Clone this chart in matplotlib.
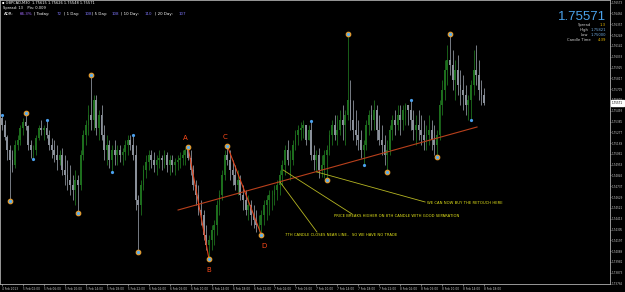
import numpy as np
import matplotlib.pyplot as plt
from matplotlib import transforms

# M30 candles, 4 Feb 22:00 -> 8 Feb 18:00
first_open = 1.7542
highs = [1.7545, 1.7540, 1.7525, 1.7515, 1.7510, 1.7520, 1.7525, 1.7535, 1.7542, 1.7547,
         1.7535, 1.7520, 1.7515, 1.7525, 1.7535, 1.7540, 1.7535, 1.7540, 1.7530, 1.7522,
         1.7520, 1.7515, 1.7510, 1.7512, 1.7505, 1.7500, 1.7495, 1.7485, 1.7490, 1.7485,
         1.7510, 1.7530, 1.7540, 1.7555, 1.7585, 1.7565, 1.7565, 1.7550, 1.7555, 1.7535,
         1.7525, 1.7520, 1.7515, 1.7520, 1.7515, 1.7515, 1.7512, 1.7520, 1.7525, 1.7525,
         1.7525, 1.7515, 1.7465, 1.7480, 1.7495, 1.7505, 1.7510, 1.7510, 1.7508, 1.7505,
         1.7510, 1.7505, 1.7510, 1.7508, 1.7505, 1.7505, 1.7502, 1.7505, 1.7508, 1.7510,
         1.7512, 1.7513, 1.7510, 1.7495, 1.7480, 1.7475, 1.7460, 1.7450, 1.7435, 1.7425,
         1.7435, 1.7440, 1.7460, 1.7470, 1.7490, 1.7510, 1.7514, 1.7510, 1.7500, 1.7495,
         1.7490, 1.7485, 1.7475, 1.7470, 1.7465, 1.7460, 1.7455, 1.7450, 1.7445, 1.7450,
         1.7460, 1.7465, 1.7470, 1.7470, 1.7475, 1.7480, 1.7490, 1.7500, 1.7515, 1.7520,
         1.7510, 1.7520, 1.7530, 1.7535, 1.7538, 1.7540, 1.7535, 1.7535, 1.7539, 1.7515,
         1.7510, 1.7512, 1.7505, 1.7510, 1.7515, 1.7530, 1.7540, 1.7545, 1.7545, 1.7550,
         1.7555, 1.7550, 1.7626, 1.7580, 1.7560, 1.7550, 1.7540, 1.7530, 1.7520, 1.7540,
         1.7550, 1.7555, 1.7560, 1.7555, 1.7545, 1.7535, 1.7525, 1.7520, 1.7535, 1.7545,
         1.7550, 1.7555, 1.7555, 1.7555, 1.7557, 1.7555, 1.7560, 1.7550, 1.7545, 1.7550,
         1.7545, 1.7540, 1.7535, 1.7545, 1.7540, 1.7535, 1.7530, 1.7560, 1.7580, 1.7600,
         1.7615, 1.7626, 1.7610, 1.7600, 1.7605, 1.7590, 1.7585, 1.7575, 1.7565, 1.7580,
         1.7610, 1.7615, 1.7600, 1.7580, 1.7572]
lows = [1.7530, 1.7520, 1.7500, 1.7459, 1.7488, 1.7492, 1.7510, 1.7515, 1.7525, 1.7530,
        1.7510, 1.7502, 1.7501, 1.7505, 1.7520, 1.7525, 1.7520, 1.7522, 1.7510, 1.7502,
        1.7498, 1.7490, 1.7495, 1.7485, 1.7475, 1.7470, 1.7465, 1.7460, 1.7455, 1.7447,
        1.7470, 1.7500, 1.7515, 1.7525, 1.7530, 1.7530, 1.7525, 1.7520, 1.7520, 1.7500,
        1.7495, 1.7492, 1.7488, 1.7495, 1.7495, 1.7498, 1.7495, 1.7500, 1.7505, 1.7510,
        1.7500, 1.7450, 1.7408, 1.7445, 1.7470, 1.7482, 1.7490, 1.7492, 1.7488, 1.7485,
        1.7492, 1.7490, 1.7492, 1.7488, 1.7485, 1.7488, 1.7485, 1.7490, 1.7492, 1.7495,
        1.7495, 1.7500, 1.7485, 1.7470, 1.7455, 1.7445, 1.7435, 1.7420, 1.7410, 1.7401,
        1.7410, 1.7415, 1.7425, 1.7445, 1.7460, 1.7480, 1.7495, 1.7480, 1.7475, 1.7470,
        1.7465, 1.7460, 1.7450, 1.7445, 1.7440, 1.7435, 1.7432, 1.7428, 1.7428, 1.7425,
        1.7435, 1.7440, 1.7445, 1.7450, 1.7455, 1.7460, 1.7465, 1.7475, 1.7485, 1.7495,
        1.7480, 1.7495, 1.7510, 1.7515, 1.7520, 1.7522, 1.7515, 1.7520, 1.7500, 1.7490,
        1.7488, 1.7482, 1.7483, 1.7482, 1.7480, 1.7505, 1.7515, 1.7520, 1.7515, 1.7525,
        1.7520, 1.7515, 1.7540, 1.7530, 1.7520, 1.7515, 1.7510, 1.7502, 1.7495, 1.7510,
        1.7525, 1.7530, 1.7530, 1.7520, 1.7515, 1.7505, 1.7495, 1.7488, 1.7505, 1.7520,
        1.7525, 1.7530, 1.7525, 1.7530, 1.7535, 1.7535, 1.7530, 1.7520, 1.7515, 1.7520,
        1.7515, 1.7510, 1.7510, 1.7515, 1.7510, 1.7505, 1.7503, 1.7520, 1.7545, 1.7560,
        1.7575, 1.7585, 1.7570, 1.7560, 1.7565, 1.7555, 1.7550, 1.7545, 1.7540, 1.7540,
        1.7565, 1.7575, 1.7560, 1.7555, 1.7555]
closes = [1.7535, 1.7523, 1.7510, 1.7500, 1.7495, 1.7515, 1.7520, 1.7532, 1.7538, 1.7534,
          1.7515, 1.7510, 1.7510, 1.7522, 1.7532, 1.7530, 1.7532, 1.7525, 1.7515, 1.7510,
          1.7505, 1.7500, 1.7505, 1.7490, 1.7485, 1.7480, 1.7475, 1.7470, 1.7480, 1.7475,
          1.7505, 1.7525, 1.7535, 1.7545, 1.7540, 1.7560, 1.7532, 1.7545, 1.7525, 1.7510,
          1.7515, 1.7500, 1.7510, 1.7505, 1.7510, 1.7505, 1.7508, 1.7515, 1.7520, 1.7515,
          1.7505, 1.7460, 1.7455, 1.7475, 1.7490, 1.7498, 1.7505, 1.7500, 1.7495, 1.7500,
          1.7502, 1.7500, 1.7505, 1.7495, 1.7500, 1.7495, 1.7498, 1.7500, 1.7502, 1.7505,
          1.7510, 1.7502, 1.7490, 1.7475, 1.7465, 1.7450, 1.7445, 1.7425, 1.7415, 1.7420,
          1.7430, 1.7435, 1.7455, 1.7465, 1.7485, 1.7505, 1.7500, 1.7490, 1.7485, 1.7475,
          1.7480, 1.7465, 1.7460, 1.7450, 1.7455, 1.7445, 1.7440, 1.7435, 1.7435, 1.7445,
          1.7455, 1.7460, 1.7465, 1.7465, 1.7470, 1.7475, 1.7485, 1.7495, 1.7510, 1.7500,
          1.7500, 1.7515, 1.7525, 1.7530, 1.7532, 1.7535, 1.7520, 1.7530, 1.7505, 1.7500,
          1.7505, 1.7490, 1.7495, 1.7505, 1.7510, 1.7525, 1.7535, 1.7525, 1.7530, 1.7540,
          1.7535, 1.7545, 1.7560, 1.7540, 1.7530, 1.7525, 1.7520, 1.7510, 1.7515, 1.7535,
          1.7545, 1.7540, 1.7550, 1.7530, 1.7520, 1.7515, 1.7505, 1.7510, 1.7530, 1.7540,
          1.7535, 1.7545, 1.7540, 1.7550, 1.7555, 1.7550, 1.7540, 1.7530, 1.7535, 1.7530,
          1.7525, 1.7520, 1.7525, 1.7530, 1.7520, 1.7515, 1.7525, 1.7555, 1.7570, 1.7590,
          1.7600, 1.7595, 1.7580, 1.7590, 1.7575, 1.7570, 1.7565, 1.7555, 1.7560, 1.7575,
          1.7590, 1.7585, 1.7570, 1.7565, 1.75571]
opens = [first_open] + closes[:-1]

time_labels = ['4 Feb 2013', '5 Feb 02:00', '5 Feb 06:00', '5 Feb 10:00', '5 Feb 14:00',
               '5 Feb 18:00', '5 Feb 22:00', '6 Feb 02:00', '6 Feb 06:00', '6 Feb 10:00',
               '6 Feb 14:00', '6 Feb 18:00', '6 Feb 22:00', '7 Feb 02:00', '7 Feb 06:00',
               '7 Feb 10:00', '7 Feb 14:00', '7 Feb 18:00', '7 Feb 22:00', '8 Feb 02:00',
               '8 Feb 06:00', '8 Feb 10:00', '8 Feb 14:00', '8 Feb 18:00']
label_bars = [0, 8, 16, 24, 32, 40, 48, 56, 64, 72, 80, 88, 96, 104, 112, 120,
              128, 136, 144, 152, 160, 168, 176, 184]
price_ticks = [1.76573, 1.76465, 1.76357, 1.76249, 1.76141, 1.76033, 1.75925, 1.75817,
               1.75709, 1.75601, 1.75493, 1.75385, 1.75277, 1.75169, 1.75061, 1.74953,
               1.74845, 1.74737, 1.74629, 1.74521, 1.74413, 1.74305, 1.74197, 1.74089,
               1.73981, 1.73873, 1.73765]

# zigzag swing points
big_idx = [3, 9, 29, 34, 52, 71, 79, 86, 99, 124, 132, 147, 166, 171]
big_price = [1.7459, 1.7547, 1.7447, 1.7585, 1.7408, 1.7513, 1.7401, 1.7514, 1.7425,
             1.7480, 1.7626, 1.7488, 1.7503, 1.7626]
small_idx = [0, 12, 17, 42, 50, 118, 138, 156, 179]
small_price = [1.7545, 1.7501, 1.7540, 1.7488, 1.7525, 1.7539, 1.7495, 1.7560, 1.7540]

# ABCD pattern
wave_names = ['A', 'B', 'C', 'D']
wave_idx = [71, 79, 86, 99]
wave_price = [1.7513, 1.7401, 1.7514, 1.7425]
wave_offsets = [(-2, 4), (0, -6), (-2, 4), (2, -6)]

trend_idx = [67.2, 181.3]
trend_price = [1.7450, 1.7533]

notes = ['WE CAN NOW BUY THE RETOUCH HERE',
         'PRICE BREAKS HIGHER ON 8TH CANDLE WITH GOOD SEPARATION',
         '7TH CANDLE CLOSES NEAR LINE..  SO WE HAVE NO TRADE']
note_lines = [((120.2, 1.7488), (161.5, 1.7458)),
              ((107.3, 1.7490), (133.6, 1.7446)),
              ((106.1, 1.7478), (120.2, 1.7428))]
note_pos = [(162.2, 1.7457), (126.7, 1.7444), (108.0, 1.7425)]

W, H = 625, 292
fig = plt.figure(figsize=(W / 100, H / 100), dpi=100, facecolor='black')
ax = fig.add_axes([0, 8 / H, 610 / W, 284 / H], facecolor='black')

x = np.arange(len(closes))
o = np.array(opens)
c = np.array(closes)
up = c >= o
up_col, dn_col = '#1d6e1d', '#8a909a'
cols = np.where(up, up_col, dn_col)

ax.vlines(x, lows, highs, colors=cols, linewidth=0.6, zorder=2)
ax.bar(x, np.abs(c - o) + 0.00003, bottom=np.minimum(o, c), width=0.7,
       color=cols, linewidth=0, zorder=2)

# trend line and callouts
ax.plot(trend_idx, trend_price, color='#b8401c', linewidth=0.8, zorder=3)
for (p0, p1), txt, (tx, ty) in zip(note_lines, notes, note_pos):
    ax.plot([p0[0], p1[0]], [p0[1], p1[1]], color='#b5b522', linewidth=0.6, zorder=3)
    ax.text(tx, ty, txt, color='#e2e21a', fontsize=2.7, va='center', ha='left', zorder=4)

# ABCD legs
ax.plot(wave_idx[:2], wave_price[:2], color='#e0421a', linewidth=0.8, zorder=3)
ax.plot(wave_idx[2:], wave_price[2:], color='#e0421a', linewidth=0.8, zorder=3)
for name, xi, pr, off in zip(wave_names, wave_idx, wave_price, wave_offsets):
    ax.annotate(name, (xi, pr), xytext=off, textcoords='offset points',
                color='#ff4a1a', fontsize=5, ha='center',
                va='bottom' if off[1] > 0 else 'top', zorder=5)

ax.plot(big_idx, big_price, 'o', markersize=3.2, markerfacecolor='#5aaef0',
        markeredgecolor='#e09a30', markeredgewidth=0.9, linestyle='none', zorder=5)
ax.plot(small_idx, small_price, 'o', markersize=2.3, markerfacecolor='#4aa0ee',
        markeredgewidth=0, linestyle='none', zorder=5)

ax.set_xlim(-0.76, 232.06)
ax.set_ylim(1.7376, 1.7660)

for s in ax.spines.values():
    s.set_color('#b0b0b0')
    s.set_linewidth(0.6)

ax.yaxis.tick_right()
ax.set_yticks(price_ticks)
ax.set_yticklabels(['%.5f' % t for t in price_ticks])
ax.tick_params(axis='y', colors='#c8c8c8', labelsize=2.0, length=1.0, width=0.4, pad=0.5)
ax.set_xticks(label_bars)
ax.set_xticklabels(time_labels, ha='left')
ax.tick_params(axis='x', colors='#c8c8c8', labelsize=2.1, length=1.5, width=0.4, pad=0.5)

# current price box on the price scale
tr = transforms.blended_transform_factory(ax.transAxes, ax.transData)
ax.text(1.003, closes[-1], '%.5f' % closes[-1], transform=tr, fontsize=2.0,
        color='black', va='center', ha='left', clip_on=False, zorder=10,
        bbox=dict(boxstyle='square,pad=0.25', facecolor='white', edgecolor='white'))


def px(xp, yp):
    return xp / W, 1 - yp / H


# header, top left
fig.text(*px(2, 3), '\u25aa GBPCAD,M30  1.75615 1.75626 1.75548 1.75571', color='white',
         fontsize=2.6, va='center', ha='left')
fig.text(*px(3, 8), 'Spread: 13    Pts: 0.009', color='white', fontsize=2.6,
         va='center', ha='left')
adr_parts = [('ADR:', 'white', 4), ('66.3%', '#a46cff', 20), ('| Today:', 'white', 34),
             ('72', '#7c74f6', 57), ('| 1 Day:', 'white', 64), ('108', '#7c74f6', 85),
             ('| 5 Day:', 'white', 92), ('108', '#7c74f6', 112), ('| 10 Day:', 'white', 121),
             ('110', '#7c74f6', 145), ('| 20 Day:', 'white', 155), ('107', '#7c74f6', 179)]
for txt, col, xp in adr_parts:
    fig.text(*px(xp, 14), txt, color=col, fontsize=2.9, va='center', ha='left')

# info panel, top right
fig.text(*px(606, 17), '1.75571', color='#4aa2ea', fontsize=9.5,
         family='Liberation Sans', va='center', ha='right')
info = [('Spread', '1.3', '#e8b800', 25), ('High', '1.75821', '#6fa8dc', 30),
        ('Low', '1.75000', '#6fa8dc', 35), ('Candle Time', '4:39', '#e8b800', 40)]
for lab, val, col, yp in info:
    if col == '#e8b800':
        fig.text(*px(591, yp), lab, color='#d0d0d0', fontsize=2.7, va='center', ha='right')
        fig.text(*px(606, yp), val, color=col, fontsize=2.7, va='center', ha='right')
    else:
        fig.text(*px(588, yp), lab, color='#d0d0d0', fontsize=2.7, va='center', ha='right')
        fig.text(*px(606, yp), val, color=col, fontsize=2.7, va='center', ha='right')

fig.savefig('out.png', dpi=100, facecolor='black')
